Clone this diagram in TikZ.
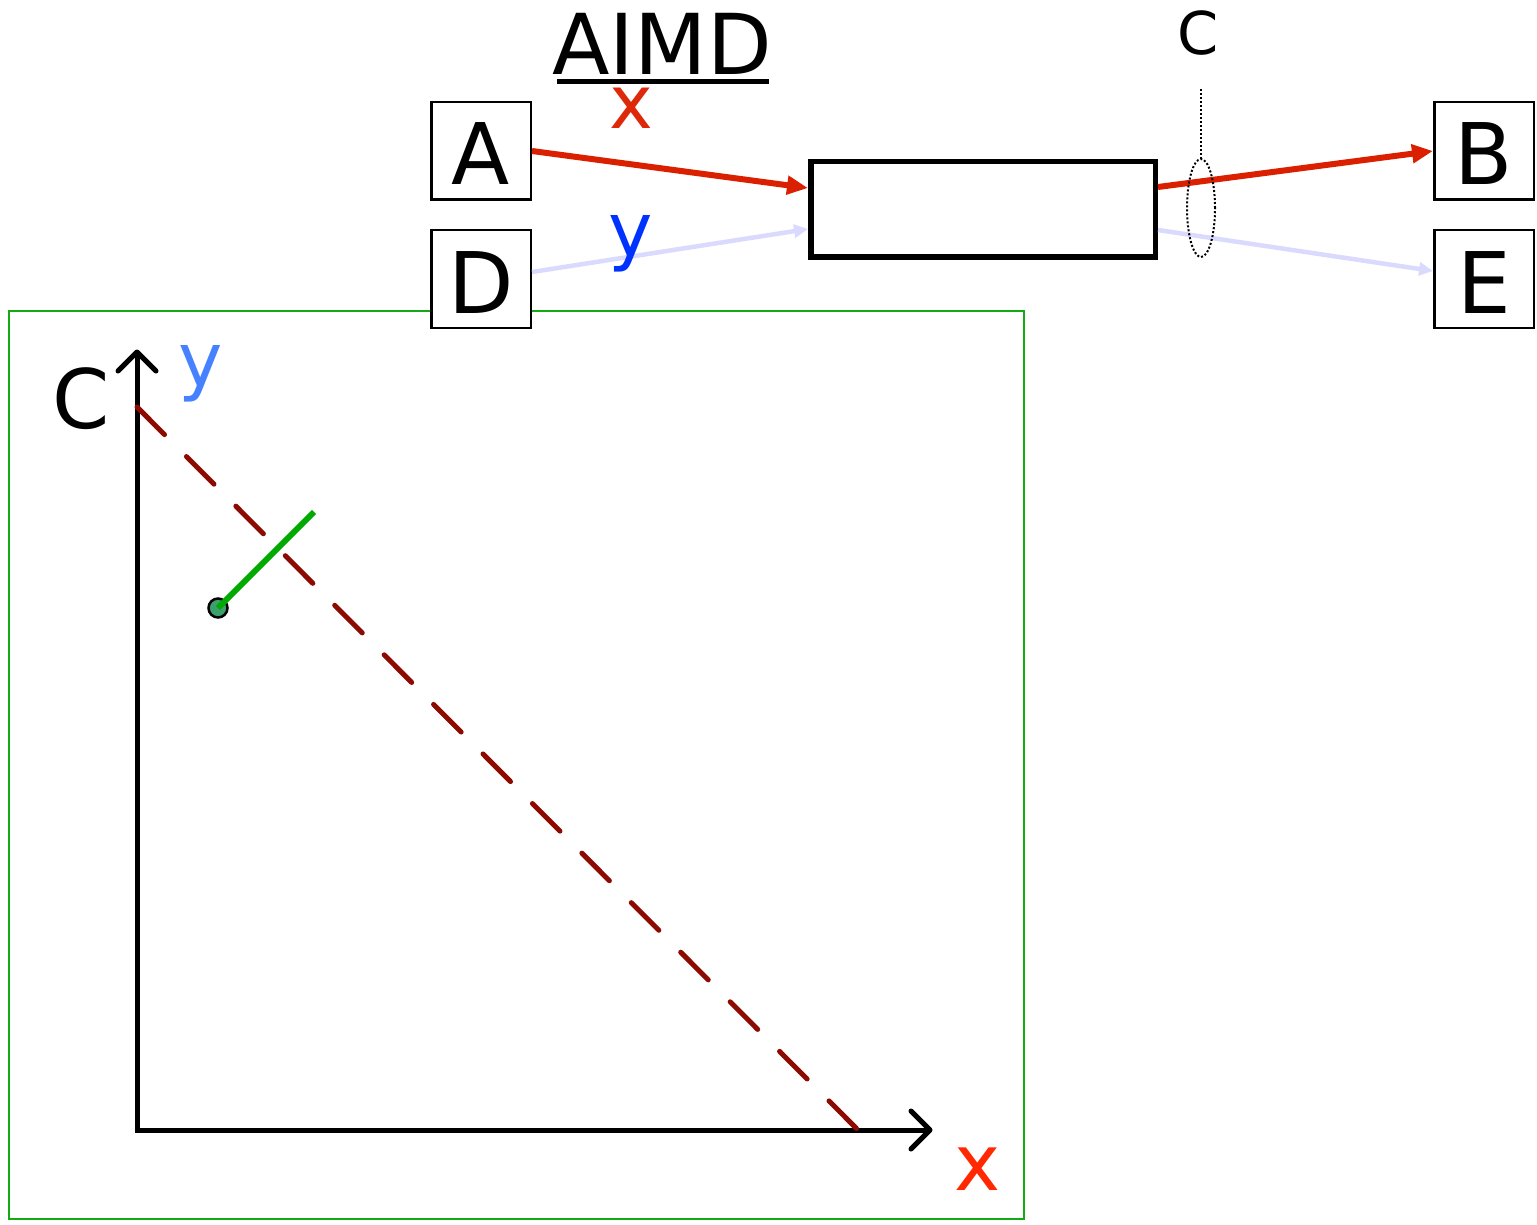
\documentclass[tikz,border=0pt]{standalone}
\usepackage{fontspec}
\setmainfont{DejaVu Sans}
\usetikzlibrary{arrows.meta,shapes.geometric}
\definecolor{arrred}{RGB}{218,32,0}
\definecolor{lav}{RGB}{218,218,255}
\definecolor{xred}{RGB}{222,40,10}
\definecolor{yblue}{RGB}{0,50,255}
\definecolor{gyblue}{RGB}{70,130,255}
\definecolor{gxred}{RGB}{255,40,0}
\definecolor{dashred}{RGB}{140,10,0}
\definecolor{grn}{RGB}{0,170,0}
\definecolor{framegrn}{RGB}{20,170,20}
\definecolor{dotfill}{RGB}{60,160,110}
\begin{document}
\begin{tikzpicture}[x=1pt,y=-1pt,
  lbox/.style={draw, line width=2.5pt, fill=white, minimum width=99.5pt, minimum height=97.5pt, inner sep=0pt, text height=68pt, text depth=0pt, font=\fontsize{85}{85}\selectfont},
  bigtxt/.style={anchor=base, inner sep=0pt, font=\fontsize{#1}{#1}\selectfont},
  redarrow/.style={draw=arrred, line width=6pt, -{Triangle[length=21pt,width=18pt]}},
  lavarrow/.style={draw=lav, line width=4.5pt, -{Triangle[length=14pt,width=13pt]}},
  axis/.style={line width=5pt, line cap=round, line join=round}
]
\useasboundingbox (0,0) rectangle (1537,1225);

% green frame
\draw[framegrn, line width=2.5pt] (9,311) rectangle (1024,1219);

% boxes
\node[lbox] (A) at (481,151) {A};
\node[lbox] (D) at (481,279) {D};
\node[lbox] (B) at (1484,151) {B};
\node[lbox] (E) at (1484,279) {E};
\node[draw, line width=5.5pt, minimum width=344.5pt, minimum height=95.5pt, inner sep=0pt] (R) at (983,209.5) {};

% connection points
\coordinate (a1) at (532,151);
\coordinate (b1) at (1433,151);
\coordinate (r1) at (808,188);
\coordinate (r2) at (808,229);
\coordinate (r3) at (1158,187);
\coordinate (r4) at (1158,230);
\coordinate (d1) at (532,272);
\coordinate (e1) at (1433,271);

\draw[redarrow] (a1) -- (r1);
\draw[lavarrow] (d1) -- (r2);
\draw[redarrow] (r3) -- (b1);
\draw[lavarrow] (r4) -- (e1);

% labels
\node[bigtxt=84] (aimd) at (662,75) {AIMD};
\draw[line width=5pt] (557,81.5) -- (769,81.5);
\node[bigtxt=74, text=xred] (xl) at (631,129) {x};
\node[bigtxt=75, text=yblue] (yl) at (631,256) {y};
\node[bigtxt=59] (cl) at (1198,55) {C};

% capacity ellipse
\coordinate (c1) at (1201,89);
\node[draw, dotted, line width=2pt, ellipse, minimum width=28pt, minimum height=98pt, inner sep=0pt] (el) at (1201,208) {};
\draw[line width=2pt, dotted] (c1) -- (el.north);

% graph
\coordinate (O) at (137,1130);
\coordinate (Ytop) at (137,352);
\coordinate (Xend) at (930,1130);
\draw[line width=5pt, line join=miter] (Ytop) -- (O) -- (Xend);
\draw[axis] (118,371) -- (Ytop) -- (156,371);
\draw[axis] (911,1111) -- (Xend) -- (911,1149);

\node[bigtxt=82] (gc) at (81,428) {C};
\node[bigtxt=75, text=gyblue] (gy) at (201,386) {y};
\node[bigtxt=78, text=gxred] (gx) at (978,1190) {x};

\coordinate (L1) at (137,407);
\coordinate (L2) at (858,1130);
\draw[dashred, line width=5pt, line cap=round, dash pattern=on 39pt off 31pt] (L1) -- (L2);

\coordinate (G2) at (314,512);
\node[circle, draw, line width=2.5pt, fill=dotfill, minimum size=19pt, inner sep=0pt] (dot) at (218,608) {};
\draw[grn, line width=6pt] (dot.center) -- (G2);
\end{tikzpicture}
\end{document}
